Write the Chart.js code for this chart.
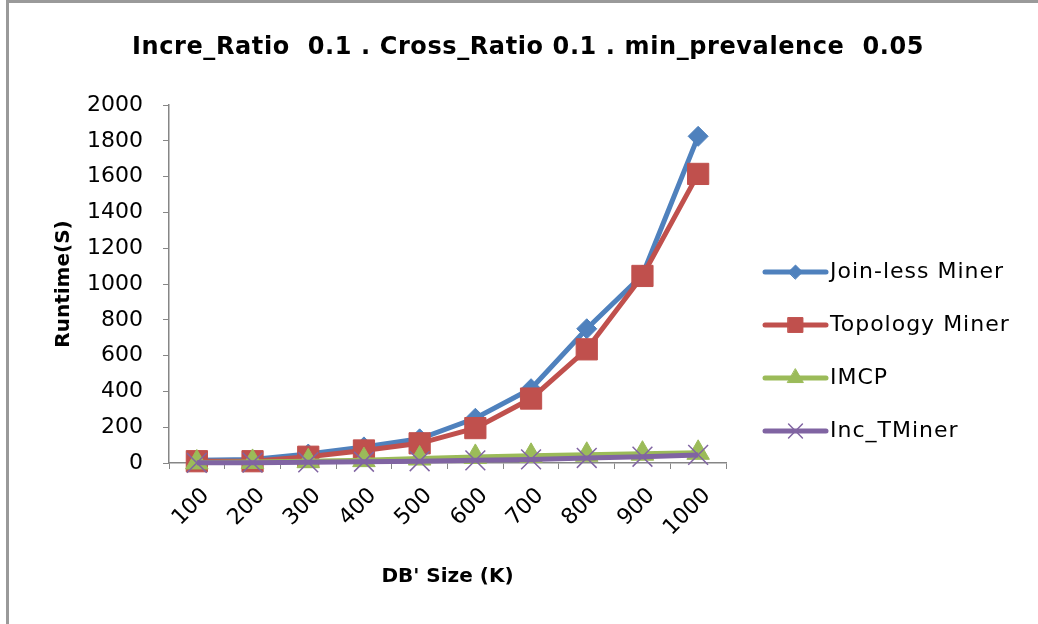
<!DOCTYPE html>
<html>
<head>
<meta charset="utf-8">
<script src="https://cdn.jsdelivr.net/npm/chart.js@4/dist/chart.umd.min.js"></script>
<style>
  html, body { margin: 0; padding: 0; background: #fff; }
  #wrap { position: relative; width: 1038px; height: 624px; }
  canvas { display: block; }
</style>
</head>
<body>
<div id="wrap"><canvas id="c" width="1038" height="624"></canvas></div>
<script>
const categories = ['100', '200', '300', '400', '500', '600', '700', '800', '900', '1000'];
const joinLess  = [15, 20, 50, 90, 135, 250, 415, 750, 1050, 1825];
const topology  = [10, 10, 35, 70, 110, 195, 360, 635, 1045, 1615];
const imcp      = [3, 6, 10, 16, 25, 34, 40, 46, 52, 57];
const incTMiner = [1, 2, 4, 7, 10, 15, 20, 28, 35, 45];
const yTicks    = [0, 200, 400, 600, 800, 1000, 1200, 1400, 1600, 1800, 2000];

const titleText = 'Incre_Ratio  0.1 . Cross_Ratio 0.1 . min_prevalence  0.05';
const FONT = '"DejaVu Sans", Verdana, sans-serif';
const TITLE_FONT = '"DejaVu Sans", sans-serif';

const series = [
  { label: 'Join-less Miner', data: joinLess,  color: '#4F81BD', style: 'rectRot',  radius: 10, order: 3 },
  { label: 'Topology Miner',  data: topology,  color: '#C0504D', style: 'rect',     radius: 15, order: 2 },
  { label: 'IMCP',            data: imcp,      color: '#9BBB59', style: 'triangle', radius: 13, order: 1 },
  { label: 'Inc_TMiner',      data: incTMiner, color: '#8064A2', style: 'crossRot', radius: 14, order: 0 }
];

const decorPlugin = {
  id: 'decor',
  afterDraw(chart) {
    const ctx = chart.ctx;
    ctx.save();
    // title
    ctx.fillStyle = '#000';
    ctx.font = 'bold 24px ' + TITLE_FONT;
    ctx.letterSpacing = '0.6px';
    ctx.textAlign = 'center';
    ctx.textBaseline = 'middle';
    ctx.fillText(titleText, 528, 48);
    ctx.letterSpacing = '1px';
    // legend
    const x0 = 765, x1 = 826, yStart = 272, step = 53;
    series.forEach((s, i) => {
      const y = yStart + i * step;
      ctx.strokeStyle = s.color;
      ctx.lineWidth = 5;
      ctx.lineCap = 'round';
      ctx.beginPath();
      ctx.moveTo(x0, y);
      ctx.lineTo(x1, y);
      ctx.stroke();
      ctx.fillStyle = s.color;
      ctx.strokeStyle = s.color;
      ctx.lineWidth = s.style === 'crossRot' ? 1.5 : 1;
      Chart.helpers.drawPoint(ctx, { pointStyle: s.style, radius: s.radius * 0.7, borderWidth: ctx.lineWidth }, (x0 + x1) / 2, y);
      ctx.fillStyle = '#000';
      ctx.font = '22px ' + FONT;
      ctx.textBaseline = 'middle';
      ctx.textAlign = 'left';
      ctx.fillText(s.label, 830, y);
    });
    ctx.letterSpacing = '0px';
    // frame lines (top and left)
    ctx.strokeStyle = '#9a9a9a';
    ctx.lineWidth = 3;
    ctx.lineCap = 'butt';
    ctx.beginPath();
    ctx.moveTo(7.5, 624);
    ctx.lineTo(7.5, 1.5);
    ctx.lineTo(1038, 1.5);
    ctx.stroke();
    ctx.restore();
  }
};

new Chart(document.getElementById('c'), {
  type: 'line',
  data: {
    labels: categories,
    datasets: series.map(s => ({
      label: s.label,
      data: s.data,
      borderColor: s.color,
      backgroundColor: s.color,
      borderWidth: 5,
      pointStyle: s.style,
      pointRadius: s.radius,
      pointBorderWidth: s.style === 'crossRot' ? 1.5 : 1,
      pointBorderColor: s.color,
      pointBackgroundColor: s.color,
      tension: 0,
      order: s.order,
      clip: false
    }))
  },
  options: {
    responsive: false,
    animation: false,
    events: [],
    layout: { padding: { left: 52, right: 312, top: 105, bottom: 35 } },
    plugins: {
      legend: { display: false },
      tooltip: { enabled: false },
      title: { display: false }
    },
    scales: {
      x: {
        type: 'category',
        offset: true,
        grid: { display: true, drawOnChartArea: false, drawTicks: true, tickLength: 6, offset: true, color: '#868686', lineWidth: 1 },
        border: { display: true, color: '#868686', width: 1.5 },
        ticks: { color: '#000', font: { family: FONT, size: 22 }, minRotation: 45, maxRotation: 45, padding: 14, labelOffset: 9, autoSkip: false },
        title: { display: true, text: "DB' Size (K)", color: '#000', font: { family: FONT, size: 20, weight: 'bold', lineHeight: 1.2 }, padding: 0 },
        afterFit(scale) { scale.height = 126; }
      },
      y: {
        min: 0,
        max: 2000,
        afterBuildTicks(scale) { scale.ticks = yTicks.map(v => ({ value: v })); },
        grid: { display: true, drawOnChartArea: false, drawTicks: true, tickLength: 6, color: '#868686', lineWidth: 1 },
        border: { display: true, color: '#868686', width: 1.5 },
        ticks: { color: '#000', font: { family: FONT, size: 22 }, padding: 20, callback: v => String(v) },
        title: { display: true, text: 'Runtime(S)', color: '#000', font: { family: FONT, size: 20, weight: 'bold', lineHeight: 1.2 }, padding: 0 },
        afterFit(scale) { scale.width = 117; }
      }
    }
  },
  plugins: [decorPlugin]
});
</script>
</body>
</html>
